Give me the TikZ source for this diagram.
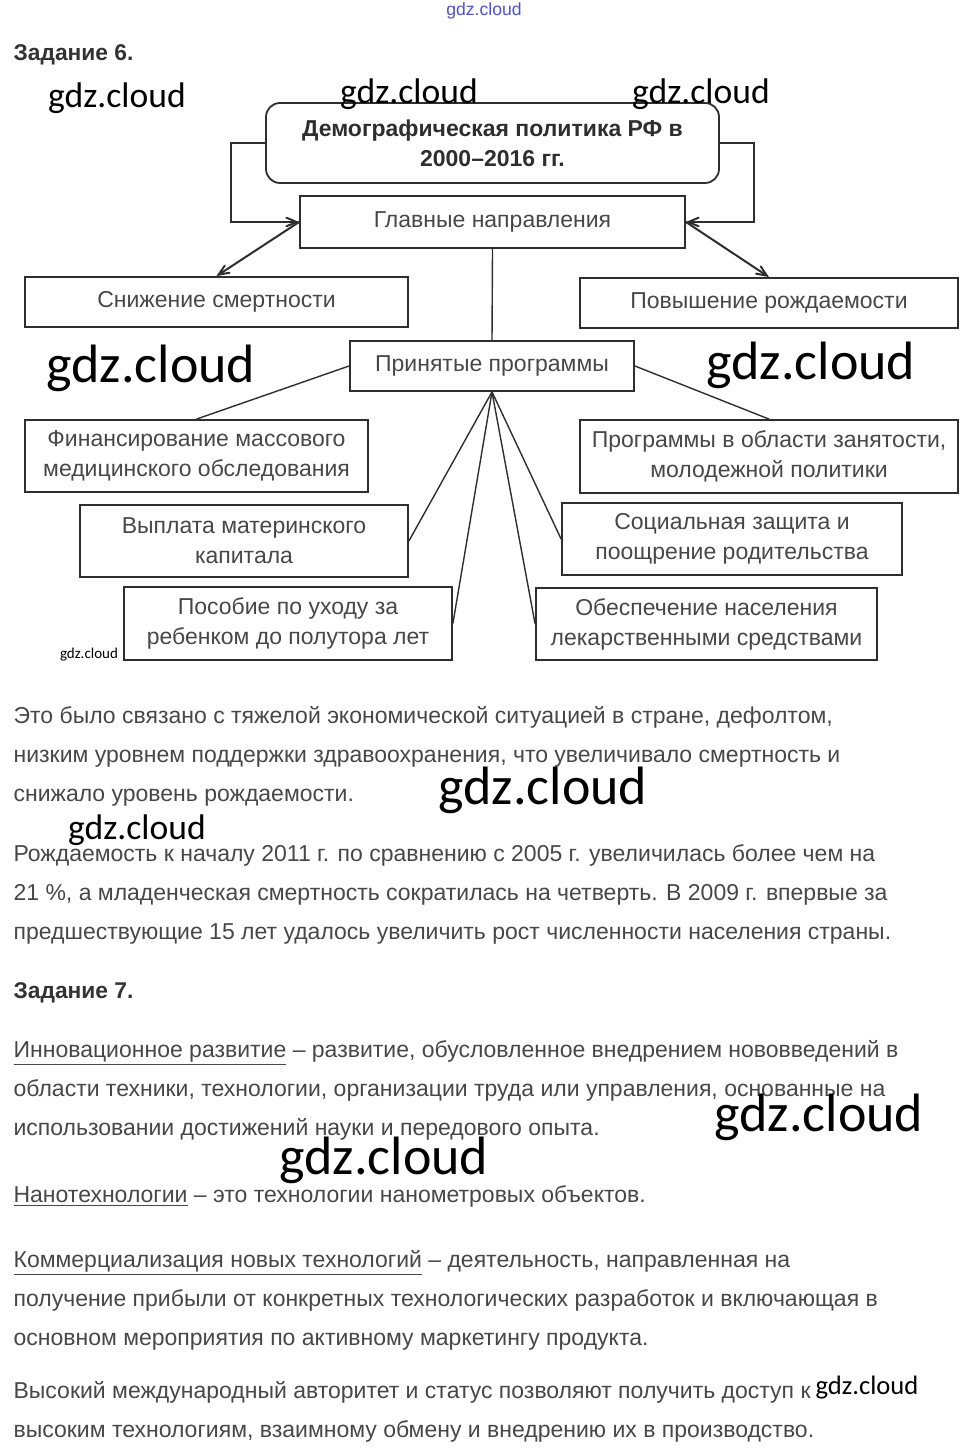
\documentclass[tikz,border=0pt]{standalone}
\usepackage{fontspec}
\setmainfont{Liberation Sans}
\newfontfamily\wmfont{Carlito}
\usetikzlibrary{arrows, positioning}

\definecolor{txtgray}{HTML}{474747}
\definecolor{linegray}{HTML}{2E2E2E}
\definecolor{wmblue}{HTML}{5050D0}

\begin{document}
\begin{tikzpicture}[x=0.5pt, y=-0.5pt, >=angle 45, semithick]

  \tikzstyle{box}=[draw=linegray, line width=0.9pt, text=txtgray, align=center, inner sep=2pt, font=\fontsize{11.5}{15}\selectfont]
  \tikzstyle{link}=[draw=linegray, line width=0.7pt]
  \tikzstyle{arrowlink}=[draw=linegray, line width=1pt, ->]
  \tikzstyle{para}=[anchor=base west, align=left, inner sep=0pt, text=txtgray, font=\fontsize{11.5}{19.5}\selectfont]
  \tikzstyle{head}=[anchor=base west, inner sep=0pt, text=txtgray!70!black, font=\bfseries\fontsize{11.4}{12}\selectfont]
  \tikzstyle{wm}=[inner sep=0pt, text=black, font=\wmfont]

  \useasboundingbox (0,0) rectangle (968,1454);

  % scheme
  \node[head] (task6) at (13,61) {Задание 6.};
  \node[box, rounded corners=7pt, minimum width=226.5pt, minimum height=40pt, text=linegray, font=\bfseries\fontsize{11.5}{15}\selectfont] (policy) at (492.5,143) {Демографическая политика РФ в\\2000–2016 гг.};
  \node[box, minimum width=192.5pt, minimum height=26pt] (dirs) at (492.5,222) {Главные направления};
  \node[box, minimum width=191.5pt, minimum height=25pt] (reduce) at (216.5,302) {Снижение смертности};
  \node[box, minimum width=189pt, minimum height=25pt] (raise) at (769,303) {Повышение рождаемости};
  \node[box, minimum width=142pt, minimum height=25pt] (progs) at (492,366) {Принятые программы};
  \node[box, minimum width=171.5pt, minimum height=36pt] (fin) at (196.5,456) {Финансирование массового\\медицинского обследования};
  \node[box, minimum width=164pt, minimum height=36pt] (matcap) at (244,541) {Выплата материнского\\капитала};
  \node[box, minimum width=164pt, minimum height=36.5pt] (care) at (288,623.5) {Пособие по уходу за\\ребенком до полутора лет};
  \node[box, minimum width=189pt, minimum height=36.5pt] (empl) at (769,456.5) {Программы в области занятости,\\молодежной политики};
  \node[box, minimum width=170pt, minimum height=36pt] (social) at (732,539) {Социальная защита и\\поощрение родительства};
  \node[box, minimum width=170.5pt, minimum height=36pt] (meds) at (706.5,624) {Обеспечение населения\\лекарственными средствами};

  \draw[arrowlink] (policy.west) -- ++(-34,0) |- (dirs.west);
  \draw[arrowlink] (policy.east) -- ++(34,0) |- (dirs.east);
  \draw[arrowlink] (dirs.west) -- (reduce.north);
  \draw[arrowlink] (dirs.east) -- (raise.north);
  \draw[link] (dirs.south) -- (progs.north);
  \draw[link] (progs.west) -- (fin.north);
  \draw[link] (progs.east) -- (empl.north);
  \draw[link] (progs.south) -- (matcap.east);
  \draw[link] (progs.south) -- (care.east);
  \draw[link] (progs.south) -- (social.west);
  \draw[link] (progs.south) -- (meds.west);

  % text below (base = last line)
  \node[para] (par1) at (13,801) {Это было связано с тяжелой экономической ситуацией в стране, дефолтом,\\низким уровнем поддержки здравоохранения, что увеличивало смертность и\\снижало уровень рождаемости.};
  \node[para] (par2) at (13,939) {Рождаемость к началу 2011 г. по сравнению с 2005 г. увеличилась более чем на\\21 \%, а младенческая смертность сократилась на четверть. В 2009 г. впервые за\\предшествующие 15 лет удалось увеличить рост численности населения страны.};
  \node[head] (task7) at (13,998) {Задание 7.};
  \node[para] (par3) at (13,1135) {\underline{Инновационное развитие} – развитие, обусловленное внедрением нововведений в\\области техники, технологии, организации труда или управления, основанные на\\использовании достижений науки и передового опыта.};
  \node[para] (par4) at (13,1202) {\underline{Нанотехнологии} – это технологии нанометровых объектов.};
  \node[para] (par5) at (13,1345) {\underline{Коммерциализация новых технологий} – деятельность, направленная на\\получение прибыли от конкретных технологических разработок и включающая в\\основном мероприятия по активному маркетингу продукта.};
  \node[para] (par6) at (13,1437) {Высокий международный авторитет и статус позволяют получить доступ к\\высоким технологиям, взаимному обмену и внедрению их в производство.};

  % watermarks
  \node[inner sep=0pt, text=wmblue, font=\fontsize{8.8}{10}\selectfont] (wm0) at (484,11) {gdz.cloud};
  \node[wm, font=\wmfont\fontsize{17.8}{20}\selectfont] (wm1) at (117,98) {gdz.cloud};
  \node[wm, font=\wmfont\fontsize{17.8}{20}\selectfont] (wm2) at (409,94) {gdz.cloud};
  \node[wm, font=\wmfont\fontsize{17.8}{20}\selectfont] (wm3) at (701,94) {gdz.cloud};
  \node[wm, font=\wmfont\fontsize{27}{30}\selectfont] (wm4) at (151,368) {gdz.cloud};
  \node[wm, font=\wmfont\fontsize{27}{30}\selectfont] (wm5) at (811,365) {gdz.cloud};
  \node[wm, font=\wmfont\fontsize{7.5}{9}\selectfont] (wm6) at (89,655) {gdz.cloud};
  \node[wm, font=\wmfont\fontsize{27}{30}\selectfont] (wm7) at (543,790) {gdz.cloud};
  \node[wm, font=\wmfont\fontsize{17.8}{20}\selectfont] (wm8) at (137,830) {gdz.cloud};
  \node[wm, font=\wmfont\fontsize{27}{30}\selectfont] (wm9) at (819,1117) {gdz.cloud};
  \node[wm, font=\wmfont\fontsize{27}{30}\selectfont] (wm10) at (384,1160) {gdz.cloud};
  \node[wm, font=\wmfont\fontsize{13.3}{15}\selectfont] (wm11) at (867,1388) {gdz.cloud};

\end{tikzpicture}
\end{document}
